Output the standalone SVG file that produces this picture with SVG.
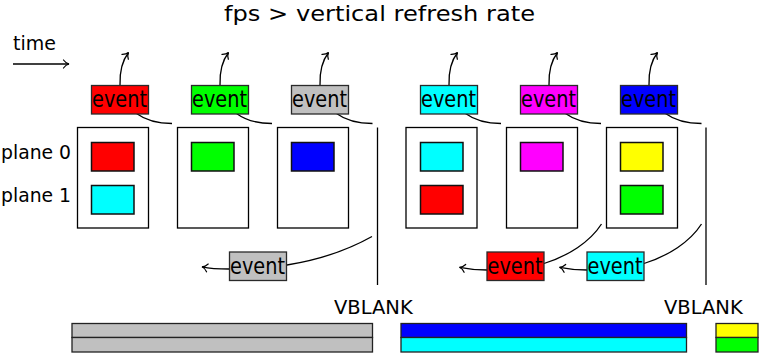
<svg xmlns="http://www.w3.org/2000/svg" width="759" height="355" viewBox="0 0 759 355">
  <style>
    .lbl { font-family: "DejaVu Sans", "Liberation Sans", sans-serif; fill: #000; }
    .ev { font-family: "DejaVu Sans", "Liberation Sans", sans-serif; font-size: 19.3px; fill: #000; text-anchor: middle; }
    .evbox { stroke: #2a2a2a; stroke-width: 1.3; }
    .frame { fill: #fff; stroke: #000; stroke-width: 1.3; }
    .plane { stroke: #111; stroke-width: 1.5; }
    .bar { stroke: #222; stroke-width: 1.3; }
    .conn { fill: none; stroke: #000; stroke-width: 1.3; }
    .arr { marker-end: url(#head); }
  </style>
  <defs>
    <marker id="head" markerUnits="userSpaceOnUse" orient="auto" markerWidth="12" markerHeight="12" viewBox="-7 -6 8 12" refX="0" refY="0" overflow="visible">
      <path d="M-5.5,-4 C-3.8,-1.6 -1.6,-0.4 0,0 C-1.6,0.4 -3.8,1.6 -5.5,4" fill="none" stroke="#000" stroke-width="1.2" stroke-linecap="round"/>
    </marker>
  </defs>

  <rect width="759" height="355" fill="#fff"/>

  <!-- title and axis labels -->
  <text class="lbl" x="224" y="21" font-size="21.5" textLength="311" lengthAdjust="spacingAndGlyphs">fps &gt; vertical refresh rate</text>
  <text class="lbl" x="13" y="50" font-size="19">time</text>
  <text class="lbl" x="1" y="158.5" font-size="18.8">plane 0</text>
  <text class="lbl" x="1" y="201.5" font-size="18.8">plane 1</text>
  <text class="lbl" x="334" y="314" font-size="19.5">VBLANK</text>
  <text class="lbl" x="664" y="314" font-size="19.5">VBLANK</text>

  <!-- frames with their plane contents -->
  <g id="frame1">
    <rect class="frame" x="77.5" y="127.5" width="71" height="100.5"/>
    <rect class="plane" x="91.5" y="142.5" width="42.5" height="28.5" fill="#ff0000"/>
    <rect class="plane" x="91.5" y="185.5" width="42.5" height="28.5" fill="#00ffff"/>
  </g>
  <g id="frame2">
    <rect class="frame" x="177.5" y="127.5" width="71" height="100.5"/>
    <rect class="plane" x="191.5" y="142.5" width="42.5" height="28.5" fill="#00ff00"/>
  </g>
  <g id="frame3">
    <rect class="frame" x="277.5" y="127.5" width="71" height="100.5"/>
    <rect class="plane" x="291.5" y="142.5" width="42.5" height="28.5" fill="#0000ff"/>
  </g>
  <g id="frame4">
    <rect class="frame" x="406" y="127.5" width="71" height="100.5"/>
    <rect class="plane" x="420.5" y="142.5" width="42.5" height="28.5" fill="#00ffff"/>
    <rect class="plane" x="420.5" y="185.5" width="42.5" height="28.5" fill="#ff0000"/>
  </g>
  <g id="frame5">
    <rect class="frame" x="506.5" y="127.5" width="71" height="100.5"/>
    <rect class="plane" x="520.5" y="142.5" width="42.5" height="28.5" fill="#ff00ff"/>
  </g>
  <g id="frame6">
    <rect class="frame" x="606.5" y="127.5" width="71" height="100.5"/>
    <rect class="plane" x="620.5" y="142.5" width="42.5" height="28.5" fill="#ffff00"/>
    <rect class="plane" x="620.5" y="185.5" width="42.5" height="28.5" fill="#00ff00"/>
  </g>

  <!-- vblank markers -->
  <g id="vblank1"><line x1="377.5" y1="127.5" x2="377.5" y2="285" stroke="#000" stroke-width="1.3"/></g>
  <g id="vblank2"><line x1="706" y1="127.5" x2="706" y2="285" stroke="#000" stroke-width="1.3"/></g>

  <!-- connectors -->
  <g id="connectors">
    <line class="conn arr" x1="13" y1="64" x2="69" y2="64"/>
    <!-- events leaving upward -->
    <path class="conn arr" d="M120,85 C119.5,70 122,61 128.5,52.5"/>
    <path class="conn arr" d="M220,85 C219.5,70 222,61 228.5,52.5"/>
    <path class="conn arr" d="M320,85 C319.5,70 322,61 328.5,52.5"/>
    <path class="conn arr" d="M449,85 C448.5,70 451,61 457.5,52.5"/>
    <path class="conn arr" d="M549,85 C548.5,70 551,61 557.5,52.5"/>
    <path class="conn arr" d="M649,85 C648.5,70 651,61 657.5,52.5"/>
    <!-- event tails -->
    <path class="conn" d="M136.5,113.5 C146,120.5 158,123.5 172,123.5"/>
    <path class="conn" d="M236.5,113.5 C246,120.5 258,123.5 272,123.5"/>
    <path class="conn" d="M336.5,113.5 C346,120.5 358,123.5 372.5,123.5"/>
    <path class="conn" d="M465.5,113.5 C475,120.5 487,123.5 501,123.5"/>
    <path class="conn" d="M565.5,113.5 C575,120.5 587,123.5 601,123.5"/>
    <path class="conn" d="M665.5,113.5 C675,120.5 687,123.5 701.5,123.5"/>
    <!-- events completed at vblank -->
    <path class="conn" d="M287,265 C318,260 348,250 372,236.5"/>
    <path class="conn" d="M544,263.5 C568,256 590,242 601.5,224"/>
    <path class="conn" d="M644,263.5 C668,256 690,242 701.5,224"/>
    <path class="conn arr" d="M229,269 C218,269 210,268.5 202,266.8"/>
    <path class="conn arr" d="M487,270 C476,270 468,269 459.5,267.3"/>
    <path class="conn arr" d="M587,270 C576,270 568,269 559.5,267.3"/>
  </g>

  <!-- event nodes -->
  <g id="event1"><rect class="evbox" x="91.5" y="85.5" width="57" height="28.5" fill="#ff0000"/><text class="ev" transform="translate(119.5,107) scale(1,1.18)">event</text></g>
  <g id="event2"><rect class="evbox" x="191.5" y="85.5" width="57" height="28.5" fill="#00ff00"/><text class="ev" transform="translate(219.5,107) scale(1,1.18)">event</text></g>
  <g id="event3"><rect class="evbox" x="291.5" y="85.5" width="57" height="28.5" fill="#c0c0c0"/><text class="ev" transform="translate(319.5,107) scale(1,1.18)">event</text></g>
  <g id="event4"><rect class="evbox" x="420.5" y="85.5" width="57" height="28.5" fill="#00ffff"/><text class="ev" transform="translate(448.5,107) scale(1,1.18)">event</text></g>
  <g id="event5"><rect class="evbox" x="520.5" y="85.5" width="57" height="28.5" fill="#ff00ff"/><text class="ev" transform="translate(548.5,107) scale(1,1.18)">event</text></g>
  <g id="event6"><rect class="evbox" x="620.5" y="85.5" width="57" height="28.5" fill="#0000ff"/><text class="ev" transform="translate(648.5,107) scale(1,1.18)">event</text></g>
  <g id="event7"><rect class="evbox" x="229.5" y="252" width="57" height="28.5" fill="#c0c0c0"/><text class="ev" transform="translate(257.5,273.5) scale(1,1.18)">event</text></g>
  <g id="event8"><rect class="evbox" x="487" y="252" width="57" height="28.5" fill="#ff0000"/><text class="ev" transform="translate(515,273.5) scale(1,1.18)">event</text></g>
  <g id="event9"><rect class="evbox" x="587" y="252" width="57" height="28.5" fill="#00ffff"/><text class="ev" transform="translate(615,273.5) scale(1,1.18)">event</text></g>

  <!-- scanout timeline -->
  <g id="scanout1">
    <rect class="bar" x="72" y="323.5" width="300.5" height="14" fill="#c0c0c0"/>
    <rect class="bar" x="72" y="337.5" width="300.5" height="14.5" fill="#c0c0c0"/>
  </g>
  <g id="scanout2">
    <rect class="bar" x="401" y="323.5" width="285.5" height="14" fill="#0000ff"/>
    <rect class="bar" x="401" y="337.5" width="285.5" height="14.5" fill="#00ffff"/>
  </g>
  <g id="scanout3">
    <rect class="bar" x="716" y="323.5" width="42" height="14" fill="#ffff00"/>
    <rect class="bar" x="716" y="337.5" width="42" height="14.5" fill="#00ff00"/>
  </g>
</svg>
